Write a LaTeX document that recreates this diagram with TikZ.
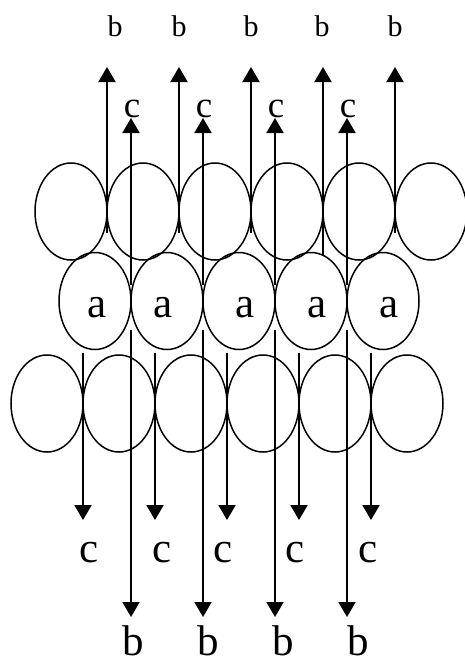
\documentclass[tikz,border=0pt]{standalone}
\usepackage{fontspec}
\setmainfont{Liberation Serif}
\usetikzlibrary{shapes.geometric,arrows.meta}

\begin{document}
\begin{tikzpicture}[x=1pt,y=-1pt,
    grain/.style={draw, ellipse, line width=1.5pt, minimum width=72pt, minimum height=97pt, inner sep=0pt},
    flow/.style={line width=2pt, -{Triangle[width=17pt,length=15pt]}},
    biglbl/.style={font=\fontsize{43}{43}\selectfont, anchor=base, inner sep=0pt},
    midlbl/.style={font=\fontsize{37}{37}\selectfont, anchor=base, inner sep=0pt},
    smalllbl/.style={font=\fontsize{30}{30}\selectfont, anchor=base, inner sep=0pt}]
    \useasboundingbox (0,0) rectangle (464,664);

    % upper row
    \node[grain] (u1) at (71,211.5) {};
    \node[grain] (u2) at (143,211.5) {};
    \node[grain] (u3) at (215,211.5) {};
    \node[grain] (u4) at (287,211.5) {};
    \node[grain] (u5) at (359,211.5) {};
    \node[grain] (u6) at (431,211.5) {};

    % middle row
    \node[grain] (m1) at (95,301) {};
    \node[grain] (m2) at (167,301) {};
    \node[grain] (m3) at (239,301) {};
    \node[grain] (m4) at (311,301) {};
    \node[grain] (m5) at (383,301) {};
    \node[biglbl] (a1) at (97,317) {a};
    \node[biglbl] (a2) at (163,317) {a};
    \node[biglbl] (a3) at (245,317) {a};
    \node[biglbl] (a4) at (317,317) {a};
    \node[biglbl] (a5) at (389,317) {a};

    % lower row
    \node[grain] (l1) at (47,403.5) {};
    \node[grain] (l2) at (119,403.5) {};
    \node[grain] (l3) at (191,403.5) {};
    \node[grain] (l4) at (263,403.5) {};
    \node[grain] (l5) at (335,403.5) {};
    \node[grain] (l6) at (407,403.5) {};

    % upward b
    \coordinate (ub1s) at (107,233); \coordinate (ub1e) at (107,67);
    \coordinate (ub2s) at (179,233); \coordinate (ub2e) at (179,67);
    \coordinate (ub3s) at (251,233); \coordinate (ub3e) at (251,67);
    \coordinate (ub4s) at (323,255); \coordinate (ub4e) at (323,67);
    \coordinate (ub5s) at (395,233); \coordinate (ub5e) at (395,67);
    \draw[flow] (ub1s) -- (ub1e);
    \draw[flow] (ub2s) -- (ub2e);
    \draw[flow] (ub3s) -- (ub3e);
    \draw[flow] (ub4s) -- (ub4e);
    \draw[flow] (ub5s) -- (ub5e);
    \node[smalllbl] (ub1) at (115,36) {b};
    \node[smalllbl] (ub2) at (179,36) {b};
    \node[smalllbl] (ub3) at (251,36) {b};
    \node[smalllbl] (ub4) at (322,36) {b};
    \node[smalllbl] (ub5) at (395,36) {b};

    % upward c
    \coordinate (uc1s) at (131,285); \coordinate (uc1e) at (131,118);
    \coordinate (uc2s) at (203,285); \coordinate (uc2e) at (203,118);
    \coordinate (uc3s) at (275,285); \coordinate (uc3e) at (275,118);
    \coordinate (uc4s) at (347,285); \coordinate (uc4e) at (347,118);
    \draw[flow] (uc1s) -- (uc1e);
    \draw[flow] (uc2s) -- (uc2e);
    \draw[flow] (uc3s) -- (uc3e);
    \draw[flow] (uc4s) -- (uc4e);
    \node[midlbl] (uc1) at (132,117) {c};
    \node[midlbl] (uc2) at (204,117) {c};
    \node[midlbl] (uc3) at (276,117) {c};
    \node[midlbl] (uc4) at (348,117) {c};

    % downward c
    \coordinate (dc1s) at (83,353); \coordinate (dc1e) at (83,520);
    \coordinate (dc2s) at (155,353); \coordinate (dc2e) at (155,520);
    \coordinate (dc3s) at (227,353); \coordinate (dc3e) at (227,520);
    \coordinate (dc4s) at (299,353); \coordinate (dc4e) at (299,520);
    \coordinate (dc5s) at (371,353); \coordinate (dc5e) at (371,520);
    \draw[flow] (dc1s) -- (dc1e);
    \draw[flow] (dc2s) -- (dc2e);
    \draw[flow] (dc3s) -- (dc3e);
    \draw[flow] (dc4s) -- (dc4e);
    \draw[flow] (dc5s) -- (dc5e);
    \node[biglbl] (dc1) at (89,562) {c};
    \node[biglbl] (dc2) at (162,562) {c};
    \node[biglbl] (dc3) at (223,562) {c};
    \node[biglbl] (dc4) at (295,562) {c};
    \node[biglbl] (dc5) at (368,562) {c};

    % downward b
    \coordinate (db1s) at (131,330); \coordinate (db1e) at (131,617);
    \coordinate (db2s) at (203,330); \coordinate (db2e) at (203,617);
    \coordinate (db3s) at (275,330); \coordinate (db3e) at (275,617);
    \coordinate (db4s) at (347,330); \coordinate (db4e) at (347,617);
    \draw[flow] (db1s) -- (db1e);
    \draw[flow] (db2s) -- (db2e);
    \draw[flow] (db3s) -- (db3e);
    \draw[flow] (db4s) -- (db4e);
    \node[biglbl] (db1) at (133,655) {b};
    \node[biglbl] (db2) at (208,655) {b};
    \node[biglbl] (db3) at (283,655) {b};
    \node[biglbl] (db4) at (358,655) {b};
\end{tikzpicture}
\end{document}
